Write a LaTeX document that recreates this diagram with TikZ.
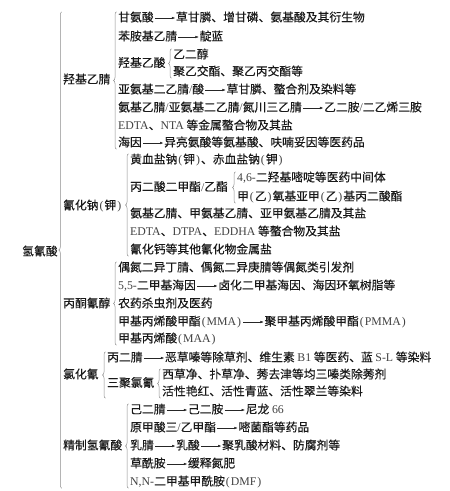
\documentclass[tikz,border=0pt]{standalone}
\usepackage{fontspec}
\setmainfont{Liberation Serif}
\newfontfamily\cjk[FakeBold=0.3]{Noto Sans CJK SC}
\usetikzlibrary{positioning,decorations.pathreplacing,arrows.meta}
\newcommand{\en}[1]{{\rmfamily\color{black!75}#1}}
\newcommand{\bkl}{\makebox[.5em]{\rmfamily\color{black!75}(}}
\newcommand{\bkr}{\makebox[.5em]{\rmfamily\color{black!75})}}
\tikzset{
  txt/.style={anchor=west,inner sep=0pt,text height=9.5pt,text depth=2.5pt,
    font=\cjk\fontsize{11.8}{14}\selectfont,text=black!90},
  brc/.style={draw=black!45,line width=.5pt,decorate,decoration={brace,amplitude=3pt}},
  arr/.style={-{Latex[length=3.5pt,width=2.6pt]},line width=.5pt,draw=black!85,
    shorten <=1pt,shorten >=.5pt},
}
\begin{document}
\begin{tikzpicture}[x=1pt,y=-1pt]
  \useasboundingbox (0,0) rectangle (450,491);
  % root and first-level branches
  \node[txt]    (HCN)       at (22,252)  {氢氰酸};
  \node[txt]    (GN)        at (63,80)   {羟基乙腈};
  \node[txt]    (NaCN)      at (63,206)  {氰化钠\bkl 钾\bkr};
  \node[txt]    (ACH)       at (63,304)  {丙酮氰醇};
  \node[txt]    (CNCl)      at (63,375)  {氯化氰};
  \node[txt]    (pHCN)      at (63,446)  {精制氢氰酸};
  % 羟基乙腈
  \node[txt]    (a1)        at (118,18)  {甘氨酸};
  \node[txt,right=22pt of a1] (a1t) {草甘膦、增甘磷、氨基酸及其衍生物};
  \node[txt]    (a2)        at (118,37)  {苯胺基乙腈};
  \node[txt,right=22pt of a2] (a2t) {靛蓝};
  \node[txt]    (a3)        at (118,63.5) {羟基乙酸};
  \node[txt]    (a3x)       at (173,55)  {乙二醇};
  \node[txt]    (a3y)       at (173,72)  {聚乙交酯、聚乙丙交酯等};
  \node[txt]    (a4)        at (118,90)  {亚氨基二乙腈\en{/}酸};
  \node[txt,right=22pt of a4] (a4t) {草甘膦、螯合剂及染料等};
  \node[txt]    (a5)        at (118,108) {氨基乙腈\en{/}亚氨基二乙腈\en{/}氮川三乙腈};
  \node[txt,right=22pt of a5] (a5t) {乙二胺\en{/}二乙烯三胺};
  \node[txt]    (a6)        at (118,126) {\en{EDTA}、\en{NTA} 等金属螯合物及其盐};
  \node[txt]    (a7)        at (118,143) {海因};
  \node[txt,right=22pt of a7] (a7t) {异亮氨酸等氨基酸、呋喃妥因等医药品};
  % 氰化钠(钾)
  \node[txt]    (b1)        at (130,160) {黄血盐钠\bkl 钾\bkr、赤血盐钠\bkl 钾\bkr};
  \node[txt]    (b2)        at (130,187.5) {丙二酸二甲酯\en{/}乙酯};
  \node[txt]    (b2x)       at (237,178) {\en{4,6-}二羟基嘧啶等医药中间体};
  \node[txt]    (b2y)       at (237,197) {甲\bkl 乙\bkr 氧基亚甲\bkl 乙\bkr 基丙二酸酯};
  \node[txt]    (b3)        at (130,214) {氨基乙腈、甲氨基乙腈、亚甲氨基乙腈及其盐};
  \node[txt]    (b4)        at (130,232) {\en{EDTA}、\en{DTPA}、\en{EDDHA} 等螯合物及其盐};
  \node[txt]    (b5)        at (130,250) {氰化钙等其他氰化物金属盐};
  % 丙酮氰醇
  \node[txt]    (c1)        at (118,268) {偶氮二异丁腈、偶氮二异庚腈等偶氮类引发剂};
  \node[txt]    (c2)        at (118,286) {\en{5,5-}二甲基海因};
  \node[txt,right=22pt of c2] (c2t) {卤化二甲基海因、海因环氧树脂等};
  \node[txt]    (c3)        at (118,304) {农药杀虫剂及医药};
  \node[txt]    (c4)        at (118,322) {甲基丙烯酸甲酯\bkl\en{MMA}\bkr};
  \node[txt,right=22pt of c4] (c4t) {聚甲基丙烯酸甲酯\bkl\en{PMMA}\bkr};
  \node[txt]    (c5)        at (118,339) {甲基丙烯酸\bkl\en{MAA}\bkr};
  % 氯化氰
  \node[txt]    (d1)        at (107,358) {丙二腈};
  \node[txt,right=22pt of d1] (d1t) {恶草嗪等除草剂、维生素 \en{B1} 等医药、蓝 \en{S-L} 等染料};
  \node[txt]    (d2)        at (107,383.5) {三聚氯氰};
  \node[txt]    (d2x)       at (162,375) {西草净、扑草净、莠去津等均三嗪类除莠剂};
  \node[txt]    (d2y)       at (162,392) {活性艳红、活性青蓝、活性翠兰等染料};
  % 精制氢氰酸
  \node[txt]    (e1)        at (130,410) {己二腈};
  \node[txt,right=22pt of e1] (e1t) {己二胺};
  \node[txt,right=22pt of e1t] (e1u) {尼龙 \en{66}};
  \node[txt]    (e2)        at (130,428) {原甲酸三\en{/}乙甲酯};
  \node[txt,right=22pt of e2] (e2t) {嘧菌酯等药品};
  \node[txt]    (e3)        at (130,446) {乳腈};
  \node[txt,right=22pt of e3] (e3t) {乳酸};
  \node[txt,right=22pt of e3t] (e3u) {聚乳酸材料、防腐剂等};
  \node[txt]    (e4)        at (130,464) {草酰胺};
  \node[txt,right=22pt of e4] (e4t) {缓释氮肥};
  \node[txt]    (e5)        at (130,482) {\en{N,N-}二甲基甲酰胺\bkl\en{DMF}\bkr};
  % braces
  \draw[brc] ([xshift=4pt]HCN.east |- e5.south) -- ([xshift=4pt]HCN.east |- a1.north);
  \draw[brc] ([xshift=-1.5pt]a7.south west) -- ([xshift=-1.5pt]a1.north west);
  \draw[brc] ([xshift=-1.5pt]a3y.south west) -- ([xshift=-1.5pt]a3x.north west);
  \draw[brc] ([xshift=-1.5pt]b5.south west) -- ([xshift=-1.5pt]b1.north west);
  \draw[brc] ([xshift=-1.5pt]b2y.south west) -- ([xshift=-1.5pt]b2x.north west);
  \draw[brc] ([xshift=-1.5pt]c5.south west) -- ([xshift=-1.5pt]c1.north west);
  \draw[brc] ([xshift=-1.5pt]d1.west |- d2y.south) -- ([xshift=-1.5pt]d1.north west);
  \draw[brc] ([xshift=-1.5pt]d2y.south west) -- ([xshift=-1.5pt]d2x.north west);
  \draw[brc] ([xshift=-1.5pt]e5.south west) -- ([xshift=-1.5pt]e1.north west);
  % arrows
  \draw[arr] (a1) -- (a1t);
  \draw[arr] (a2) -- (a2t);
  \draw[arr] (a4) -- (a4t);
  \draw[arr] (a5) -- (a5t);
  \draw[arr] (a7) -- (a7t);
  \draw[arr] (c2) -- (c2t);
  \draw[arr] (c4) -- (c4t);
  \draw[arr] (d1) -- (d1t);
  \draw[arr] (e1) -- (e1t);
  \draw[arr] (e1t) -- (e1u);
  \draw[arr] (e2) -- (e2t);
  \draw[arr] (e3) -- (e3t);
  \draw[arr] (e3t) -- (e3u);
  \draw[arr] (e4) -- (e4t);
\end{tikzpicture}
\end{document}
